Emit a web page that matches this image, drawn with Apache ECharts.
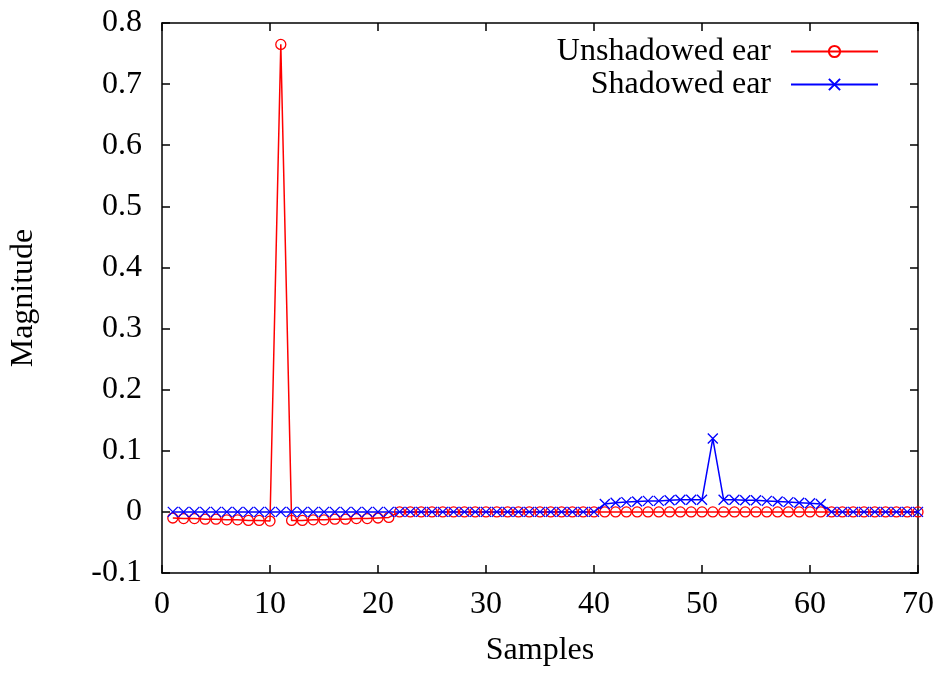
<!DOCTYPE html>
<html>
<head>
<meta charset="utf-8">
<script src="https://cdn.jsdelivr.net/npm/echarts@6/dist/echarts.min.js"></script>
<style>html,body{margin:0;padding:0;background:#fff}#c{width:940px;height:673px}</style>
</head>
<body>
<div id="c"></div>
<script>
// Sample indices
const samples = Array.from({length: 70}, (_, i) => i + 1);
// Unshadowed ear magnitudes (samples 1..70)
const unshadowed = [
  -0.010, -0.011, -0.011, -0.012, -0.012, -0.013, -0.013, -0.014, -0.014, -0.015,
   0.765, -0.014, -0.014, -0.013, -0.013, -0.012, -0.012, -0.011, -0.011, -0.010,
  -0.009,  0, 0, 0, 0, 0, 0, 0, 0, 0,
   0, 0, 0, 0, 0, 0, 0, 0, 0, 0,
   0, 0, 0, 0, 0, 0, 0, 0, 0, 0,
   0, 0, 0, 0, 0, 0, 0, 0, 0, 0,
   0, 0, 0, 0, 0, 0, 0, 0, 0, 0
];
// Shadowed ear magnitudes (samples 1..70)
const shadowed = [
  0, 0, 0, 0, 0, 0, 0, 0, 0, 0,
  0, 0, 0, 0, 0, 0, 0, 0, 0, 0,
  0, 0, 0, 0, 0, 0, 0, 0, 0, 0,
  0, 0, 0, 0, 0, 0, 0, 0, 0, 0,
  0.013, 0.015, 0.016, 0.017, 0.018, 0.018, 0.019, 0.020, 0.020, 0.020,
  0.120, 0.020, 0.020, 0.019, 0.019, 0.018, 0.017, 0.016, 0.015, 0.014,
  0.013, 0, 0, 0, 0, 0, 0, 0, 0, 0
];
const seriesNames = ['Unshadowed ear', 'Shadowed ear'];
const xTicks = {min: 0, max: 70, interval: 10};
const yTicks = {min: -0.1, max: 0.8, interval: 0.1};

const FONT = 'Liberation Serif';
const FS = 32;
const axisLine = {show: true, onZero: false, lineStyle: {color: '#000', width: 1.5}};
const axisTick = {show: true, inside: true, length: 8, lineStyle: {color: '#000', width: 1.5}};

const chart = echarts.init(document.getElementById('c'), null, {renderer: 'canvas'});
chart.setOption({
  animation: false,
  backgroundColor: '#fff',
  grid: {left: 158, right: 22, top: 23, bottom: 100, containLabel: false},
  legend: {
    data: seriesNames,
    orient: 'vertical',
    align: 'right',
    right: 56,
    top: 30,
    itemWidth: 87,
    itemHeight: 14,
    itemGap: 0,
    textStyle: {fontFamily: FONT, fontSize: FS, color: '#000', lineHeight: 33, padding: [0, 15, 0, 0]}
  },
  xAxis: [
    {type: 'value', position: 'bottom', min: xTicks.min, max: xTicks.max, interval: xTicks.interval,
     name: 'Samples', nameLocation: 'middle', nameGap: 62,
     nameTextStyle: {fontFamily: FONT, fontSize: FS, color: '#000'},
     axisLine, axisTick, splitLine: {show: false},
     axisLabel: {fontFamily: FONT, fontSize: FS, color: '#000', margin: 16}},
    {type: 'value', position: 'top', min: xTicks.min, max: xTicks.max, interval: xTicks.interval,
     axisLine, axisTick, splitLine: {show: false}, axisLabel: {show: false}}
  ],
  yAxis: [
    {type: 'value', position: 'left', min: yTicks.min, max: yTicks.max, interval: yTicks.interval,
     name: 'Magnitude', nameLocation: 'middle', nameGap: 122,
     nameTextStyle: {fontFamily: FONT, fontSize: FS, color: '#000'},
     axisLine, axisTick, splitLine: {show: false},
     axisLabel: {fontFamily: FONT, fontSize: FS, color: '#000', margin: 20,
       formatter: v => String(Number(v.toFixed(1)))}},
    {type: 'value', position: 'right', min: yTicks.min, max: yTicks.max, interval: yTicks.interval,
     axisLine, axisTick, splitLine: {show: false}, axisLabel: {show: false}}
  ],
  series: [
    {
      name: seriesNames[0], type: 'line', xAxisIndex: 0, yAxisIndex: 0,
      data: samples.map((s, i) => [s, unshadowed[i]]),
      symbol: 'circle', symbolSize: 10, showSymbol: true, showAllSymbol: true,
      lineStyle: {color: '#ff0000', width: 1.5},
      itemStyle: {color: 'rgba(255,255,255,0)', borderColor: '#ff0000', borderWidth: 1.3},
      emphasis: {disabled: true}
    },
    {
      name: seriesNames[1], type: 'line', xAxisIndex: 0, yAxisIndex: 0,
      data: samples.map((s, i) => [s, shadowed[i]]),
      symbol: 'path://M0,0L10,10M10,0L0,10', symbolSize: 10, showSymbol: true, showAllSymbol: true,
      lineStyle: {color: '#0000ff', width: 1.5},
      itemStyle: {color: 'rgba(0,0,255,0)', borderColor: '#0000ff', borderWidth: 1.3},
      emphasis: {disabled: true}
    }
  ]
});
</script>
</body>
</html>
